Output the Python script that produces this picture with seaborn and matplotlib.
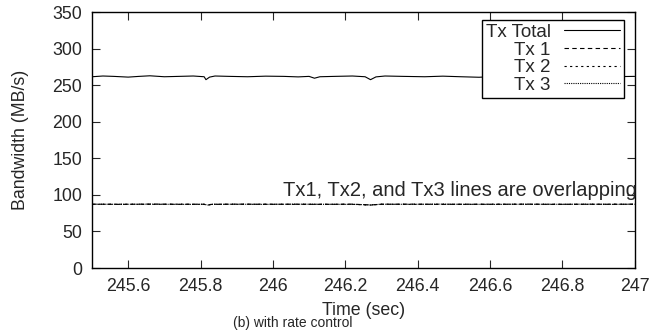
import numpy as np
import pandas as pd
import matplotlib
matplotlib.use("Agg")
import matplotlib.pyplot as plt
import seaborn as sns

# data (time in sec, bandwidth in MB/s)
time_total = [245.50, 245.53, 245.56, 245.60, 245.63, 245.66, 245.70, 245.74, 245.78,
              245.81, 245.815, 245.825, 245.84, 245.88, 245.93, 245.98, 246.03, 246.07,
              246.10, 246.115, 246.13, 246.17, 246.22, 246.255, 246.27, 246.285, 246.31,
              246.36, 246.42, 246.47, 246.52, 246.57, 246.62, 246.67, 246.72, 246.77,
              246.82, 246.86, 246.875, 246.89, 246.93, 246.97, 247.00]
tx_total = [261.5, 262.5, 262.0, 261.0, 262.0, 262.8, 261.5, 262.0, 262.5,
            261.5, 257.5, 261.0, 262.5, 262.0, 261.5, 262.3, 262.0, 261.3,
            262.0, 259.5, 261.5, 262.0, 262.5, 261.5, 257.5, 261.3, 262.5,
            262.0, 261.5, 262.3, 261.5, 260.8, 262.0, 262.5, 261.8, 262.2,
            261.5, 262.0, 259.5, 261.5, 262.3, 261.8, 262.0]

time_tx = [245.50, 245.58, 245.66, 245.74, 245.81, 245.82, 245.83, 245.90, 245.98,
           246.06, 246.14, 246.22, 246.27, 246.30, 246.38, 246.46, 246.54, 246.62,
           246.70, 246.78, 246.87, 246.94, 247.00]
tx1 = [87.3, 87.0, 87.4, 87.1, 87.2, 85.8, 87.0, 87.3, 87.1,
       87.2, 87.0, 87.3, 86.2, 87.1, 87.3, 87.0, 87.2, 87.1,
       87.3, 87.0, 87.2, 87.1, 87.3]
tx2 = [87.1, 87.2, 87.0, 87.3, 87.0, 86.0, 87.2, 87.1, 87.3,
       87.0, 87.2, 87.1, 86.0, 87.3, 87.0, 87.2, 87.0, 87.3,
       87.1, 87.2, 87.0, 87.3, 87.1]
tx3 = [87.2, 87.1, 87.3, 87.0, 87.1, 86.1, 87.1, 87.2, 87.0,
       87.3, 87.1, 87.0, 86.3, 87.2, 87.1, 87.3, 87.1, 87.0,
       87.2, 87.1, 87.3, 87.0, 87.2]

x_ticks = [245.6, 245.8, 246, 246.2, 246.4, 246.6, 246.8, 247]
x_labels = ["245.6", "245.8", "246", "246.2", "246.4", "246.6", "246.8", "247"]
y_ticks = [0, 50, 100, 150, 200, 250, 300, 350]

sns.set_style("ticks")
plt.rcParams['font.family'] = ['Liberation Sans', 'DejaVu Sans']

fs = 12.8

fig = plt.figure(figsize=(6.54, 3.31), dpi=100)
ax = fig.add_axes([0.1407, 0.1903, 0.8296, 0.7734])

df_total = pd.DataFrame({'t': time_total, 'bw': tx_total})
df_tx = pd.DataFrame({'t': time_tx, 'tx1': tx1, 'tx2': tx2, 'tx3': tx3})

sns.lineplot(data=df_total, x='t', y='bw', ax=ax, color='black', lw=0.8, label='Tx Total')
sns.lineplot(data=df_tx, x='t', y='tx1', ax=ax, color='black', lw=0.8, label='Tx 1')
ax.lines[-1].set_dashes([4, 3])
sns.lineplot(data=df_tx, x='t', y='tx2', ax=ax, color='black', lw=0.8, label='Tx 2')
ax.lines[-1].set_dashes([2, 3])
sns.lineplot(data=df_tx, x='t', y='tx3', ax=ax, color='black', lw=0.8, label='Tx 3')
ax.lines[-1].set_dashes([1, 1])

ax.set_xlim(245.5, 247)
ax.set_ylim(0, 350)
ax.set_xticks(x_ticks)
ax.set_xticklabels(x_labels)
ax.set_yticks(y_ticks)
ax.tick_params(direction='in', top=True, right=True, length=6, width=0.8, labelsize=fs, pad=7)
for s in ax.spines.values():
    s.set_linewidth(1.0)
    s.set_color('black')

ax.set_xlabel('Time (sec)', fontsize=fs, labelpad=5)
ax.set_ylabel('Bandwidth (MB/s)', fontsize=fs, labelpad=17)

ax.text(247.005, 106, 'Tx1, Tx2, and Tx3 lines are overlapping', ha='right', va='center', fontsize=14.5)

leg = ax.legend(loc='upper right', bbox_to_anchor=(0.98, 0.969), borderaxespad=0,
                markerfirst=False, handlelength=3.0, handletextpad=0.7,
                labelspacing=0.03, borderpad=0.2, fancybox=False, framealpha=1,
                fontsize=13.5)
leg.get_frame().set_edgecolor('black')
leg.get_frame().set_linewidth(1.0)
for t in leg.get_texts():
    t.set_ha('right')

fig.text(0.356, 0.002, '(b) with rate control', ha='left', va='bottom', fontsize=10)

fig.savefig('out.png', dpi=100)
